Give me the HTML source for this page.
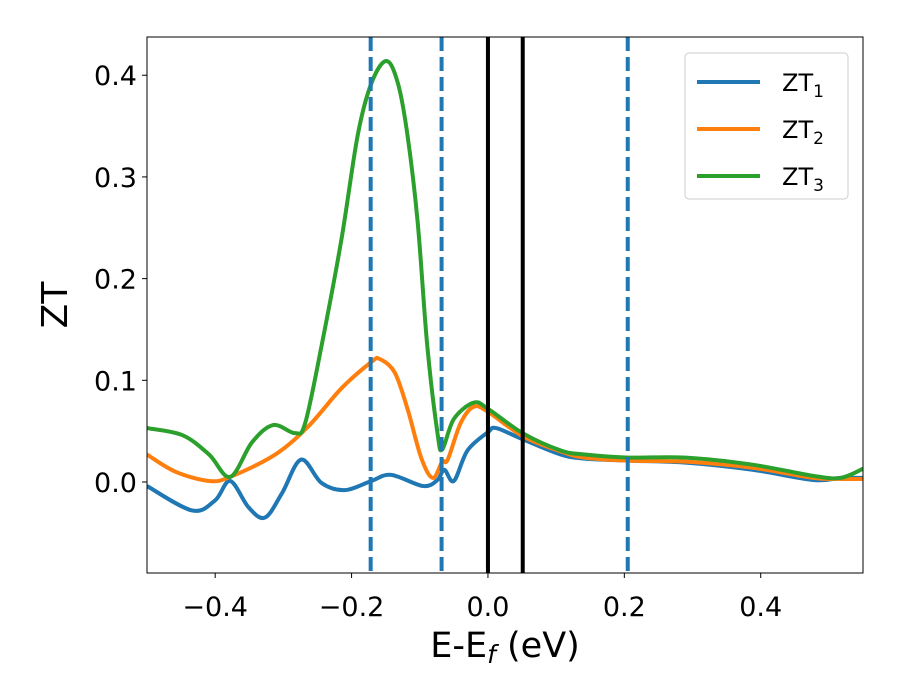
<!DOCTYPE html>
<html><head><meta charset="utf-8"><style>body{margin:0;background:#fff}svg{display:block;font-family:"DejaVu Sans","Liberation Sans",sans-serif}</style></head>
<body>
<svg id="chart" width="900" height="700"></svg>
<script>
const xTicks=[-0.4,-0.2,0.0,0.2,0.4];
const yTicks=[0.0,0.1,0.2,0.3,0.4];
const dashedLines=[-0.172,-0.068,0.205];
const solidLines=[0.0,0.051];
const zt1X=[-0.5,-0.434,-0.4,-0.378,-0.351,-0.327,-0.302,-0.274,-0.244,-0.21,-0.171,-0.142,-0.095,-0.074,-0.064,-0.05,-0.03,0,0.012,0.051,0.107,0.142,0.206,0.29,0.388,0.477,0.517,0.55];
const zt1Y=[-0.004,-0.028,-0.018,0.001,-0.025,-0.035,-0.011,0.022,-0.001,-0.008,0.001,0.007,-0.004,0.002,0.012,0.001,0.031,0.049,0.053,0.042,0.027,0.023,0.021,0.019,0.012,0.002,0.004,0.004];
const zt2X=[-0.5,-0.458,-0.409,-0.378,-0.312,-0.263,-0.215,-0.171,-0.159,-0.137,-0.118,-0.098,-0.081,-0.067,-0.059,-0.04,-0.021,0,0.051,0.107,0.142,0.206,0.29,0.388,0.477,0.517,0.55];
const zt2Y=[0.027,0.01,0.001,0.005,0.027,0.055,0.092,0.118,0.121,0.108,0.072,0.024,0.004,0.02,0.022,0.058,0.074,0.069,0.045,0.03,0.024,0.021,0.02,0.014,0.004,0.003,0.003];
const zt3X=[-0.5,-0.448,-0.409,-0.378,-0.346,-0.315,-0.283,-0.268,-0.244,-0.215,-0.191,-0.171,-0.149,-0.132,-0.118,-0.103,-0.089,-0.074,-0.067,-0.05,-0.021,0,0.051,0.107,0.142,0.206,0.29,0.388,0.477,0.517,0.55];
const zt3Y=[0.053,0.046,0.027,0.005,0.039,0.056,0.048,0.058,0.134,0.238,0.341,0.392,0.414,0.392,0.341,0.255,0.134,0.048,0.032,0.062,0.078,0.072,0.048,0.031,0.027,0.024,0.024,0.017,0.006,0.004,0.013];
const ns="http://www.w3.org/2000/svg";
const svg=document.getElementById('chart');
const L=147,R=863,T=37,B=573,x0=-0.5,x1=0.55,y0=-0.0895,y1=0.4376;
const sx=v=>L+(v-x0)/(x1-x0)*(R-L);
const sy=v=>B-(v-y0)/(y1-y0)*(B-T);
function mk(tag,attrs,parent){const e=document.createElementNS(ns,tag);for(const k in attrs)e.setAttribute(k,attrs[k]);(parent||svg).appendChild(e);return e;}
const defs=mk('defs',{});const cp=mk('clipPath',{id:'clip'},defs);mk('rect',{x:L,y:T,width:R-L,height:B-T},cp);
const plot=mk('g',{'clip-path':'url(#clip)'});


function path(xs,ys){const p=xs.map((x,i)=>[sx(x),sy(ys[i])]);let d='M'+p[0][0]+','+p[0][1];for(let i=0;i<p.length-1;i++){const a=p[i-1]||p[i],b=p[i],c=p[i+1],e=p[i+2]||c;const t=6;d+=' C'+(b[0]+(c[0]-a[0])/t)+','+(b[1]+(c[1]-a[1])/t)+' '+(c[0]-(e[0]-b[0])/t)+','+(c[1]-(e[1]-b[1])/t)+' '+c[0]+','+c[1];}return d;}
const series=[[zt1X,zt1Y,'#1f77b4','zt1-line'],[zt2X,zt2Y,'#ff7f0e','zt2-line'],[zt3X,zt3Y,'#2ca02c','zt3-line']];
series.forEach(s=>{const e=mk('path',{d:path(s[0],s[1]),fill:'none',stroke:s[2],'stroke-width':4,'stroke-linejoin':'round'},plot);

});
dashedLines.forEach(v=>{const e=mk('line',{x1:sx(v),x2:sx(v),y1:T,y2:B,stroke:'#1f77b4','stroke-width':4,'stroke-dasharray':'14,6'},plot);

});
solidLines.forEach(v=>{const e=mk('line',{x1:sx(v),x2:sx(v),y1:T,y2:B,stroke:'#000','stroke-width':4},plot);

});
const frame=mk('rect',{x:L,y:T,width:R-L,height:B-T,fill:'none',stroke:'#000','stroke-width':1});


const fmt=v=>(v<0?'\u2212':'')+Math.abs(v).toFixed(1);
xTicks.forEach(v=>{mk('line',{x1:sx(v),x2:sx(v),y1:B,y2:B+5,stroke:'#000'});const t=mk('text',{x:sx(v),y:616,'font-size':27,'text-anchor':'middle'});t.textContent=fmt(v);

});
yTicks.forEach(v=>{mk('line',{x1:L-5,x2:L,y1:sy(v),y2:sy(v),stroke:'#000'});const t=mk('text',{x:137,y:sy(v)+10,'font-size':27,'text-anchor':'end'});t.textContent=fmt(v);

});
</script>
<svg width="900" height="700" style="position:absolute;left:0;top:0;font-family:'DejaVu Sans','Liberation Sans',sans-serif">
<text x="505" y="657" font-size="35" text-anchor="middle">E-E<tspan font-style="italic" font-size="25" dy="6">f</tspan><tspan dy="-6"> (eV)</tspan></text>
<text transform="translate(67,305) rotate(-90)" font-size="36" text-anchor="middle">ZT</text>
<g>
<rect x="685" y="53" width="163" height="146" rx="4" fill="#fff" stroke="#ccc"/>
<g><line x1="697" x2="760" y1="82" y2="82" stroke="#1f77b4" stroke-width="4"/><text x="782" y="91" font-size="24">ZT<tspan font-size="17" dy="6">1</tspan></text></g>
<g><line x1="697" x2="760" y1="129" y2="129" stroke="#ff7f0e" stroke-width="4"/><text x="782" y="138" font-size="24">ZT<tspan font-size="17" dy="6">2</tspan></text></g>
<g><line x1="697" x2="760" y1="176" y2="176" stroke="#2ca02c" stroke-width="4"/><text x="782" y="185" font-size="24">ZT<tspan font-size="17" dy="6">3</tspan></text></g>
</g>
</svg>
</body></html>
